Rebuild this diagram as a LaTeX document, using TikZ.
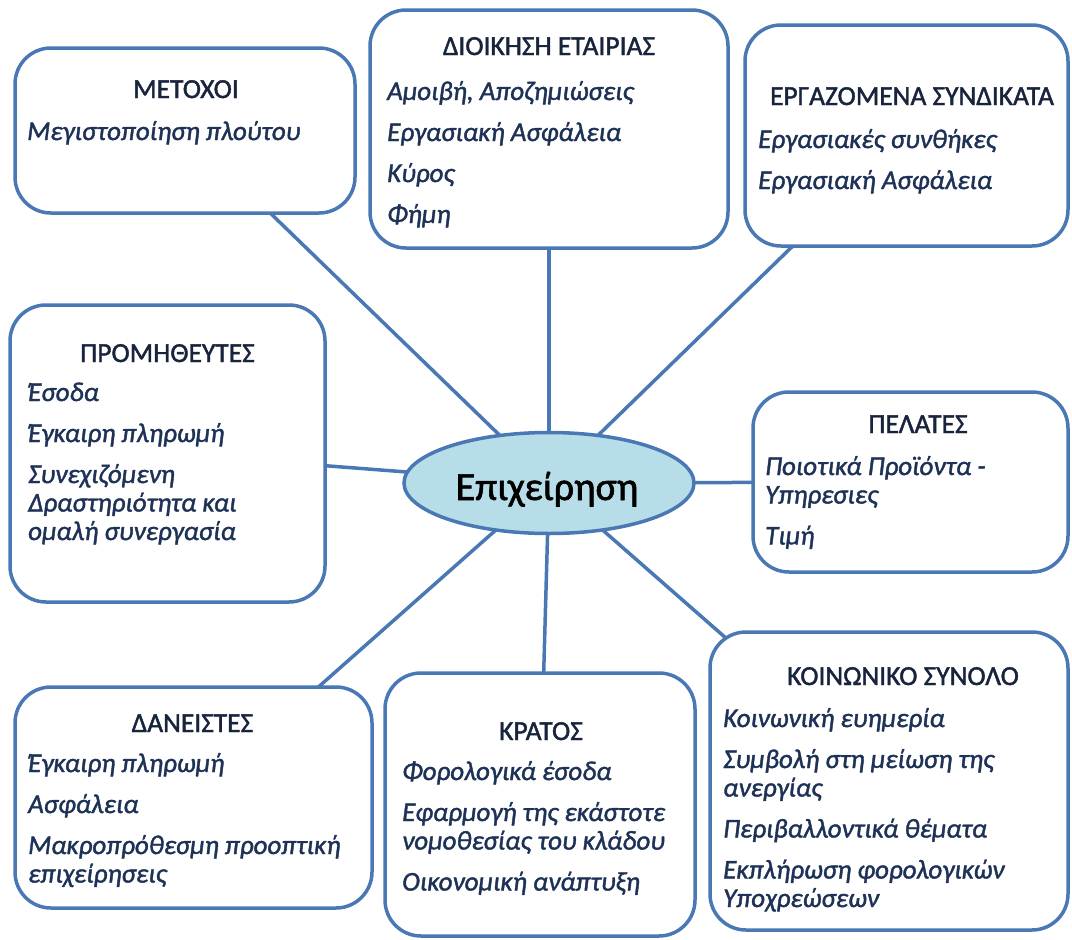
\documentclass[tikz,border=0pt]{standalone}
\usepackage{fontspec}
\setmainfont{Carlito}[FakeBold=1.5]
\usetikzlibrary{shapes.geometric,backgrounds}

\definecolor{edgeblue}{HTML}{4A78B4}
\definecolor{hubfill}{HTML}{B7DDE8}
\definecolor{headcol}{HTML}{18233C}
\definecolor{itemcol}{HTML}{1E3257}

\newcommand{\hdsize}{\fontsize{27.5}{29}\selectfont}
\newcommand{\itsize}{\fontsize{27}{28.5}\selectfont\itshape}
\newcommand{\itemgap}{\\[12.5pt]}
\newcommand{\stack}[1]{\begin{tabular}[t]{@{}l@{}}#1\end{tabular}}

\tikzset{
  box/.style={draw=edgeblue, line width=3.5pt, rounded corners=36pt, fill=white, inner sep=0pt},
  hub/.style={ellipse, draw=edgeblue, line width=3.5pt, fill=hubfill, inner sep=0pt,
              minimum width=290pt, minimum height=101pt, text=black},
  head/.style={anchor=base, inner sep=0pt, font=\hdsize, text=headcol},
  items/.style={anchor=base west, inner sep=0pt, font=\itsize, text=itemcol},
  link/.style={draw=edgeblue, line width=3.5pt}
}

\begin{document}
\begin{tikzpicture}[x=1pt, y=-1pt]
\useasboundingbox (0,0) rectangle (1072,940);

% stakeholder boxes
\node[box, minimum width=340pt, minimum height=165pt] (met) at (185,130.5) {};
\node[box, minimum width=358pt, minimum height=238pt] (dio) at (549,129) {};
\node[box, minimum width=323pt, minimum height=221pt] (erg) at (906.5,135.5) {};
\node[box, minimum width=315pt, minimum height=297pt] (pro) at (167.5,453.5) {};
\node[box, minimum width=315pt, minimum height=180pt] (pel) at (910.5,482) {};
\node[box, minimum width=358pt, minimum height=298pt] (koi) at (889,781) {};
\node[box, minimum width=310pt, minimum height=263pt] (kra) at (540,804.5) {};
\node[box, minimum width=357pt, minimum height=221pt] (dan) at (193.5,797.5) {};

% the firm in the middle
\node[hub] (ell) at (549,483) {};
\node[anchor=base, inner sep=0pt, font=\fontsize{40}{46}\selectfont] (ell-t) at (547,500) {Επιχείρηση};

% spokes, behind everything
\begin{pgfonlayer}{background}
  \fill[white] (0,0) rectangle (1072,940);
  \foreach \b in {met,dio,erg,pro,pel,koi,kra,dan}
    \draw[link] (ell.center) -- (\b.center);
\end{pgfonlayer}

% box contents
\node[head] (met-h) at (186,98) {ΜΕΤΟΧΟΙ};
\node[items] (met-i) at (27,140) {\stack{Μεγιστοποίηση πλούτου}};

\node[head] (dio-h) at (549,55) {ΔΙΟΙΚΗΣΗ ΕΤΑΙΡΙΑΣ};
\node[items] (dio-i) at (387,100) {\stack{Αμοιβή, Αποζημιώσεις\itemgap Εργασιακή Ασφάλεια\itemgap Κύρος\itemgap Φήμη}};

\node[head] (erg-h) at (912,105) {ΕΡΓΑΖΟΜΕΝΑ ΣΥΝΔΙΚΑΤΑ};
\node[items] (erg-i) at (758,148) {\stack{Εργασιακές συνθήκες\itemgap Εργασιακή Ασφάλεια}};

\node[head] (pro-h) at (167.5,362) {ΠΡΟΜΗΘΕΥΤΕΣ};
\node[items] (pro-i) at (28,401) {\stack{Έσοδα\itemgap Έγκαιρη πληρωμή\itemgap Συνεχιζόμενη\\ Δραστηριότητα και\\ ομαλή συνεργασία}};

\node[head] (pel-h) at (918,433) {ΠΕΛΑΤΕΣ};
\node[items] (pel-i) at (765,475) {\stack{Ποιοτικά Προϊόντα -\\ Υπηρεσιες\itemgap Τιμή}};

\node[head] (koi-h) at (903,685) {ΚΟΙΝΩΝΙΚΟ ΣΥΝΟΛΟ};
\node[items] (koi-i) at (723,727) {\stack{Κοινωνική ευημερία\itemgap Συμβολή στη μείωση της\\ ανεργίας\itemgap Περιβαλλοντικά θέματα\itemgap Εκπλήρωση φορολογικών\\ Υποχρεώσεων}};

\node[head] (kra-h) at (541,740) {ΚΡΑΤΟΣ};
\node[items] (kra-i) at (402,780) {\stack{Φορολογικά έσοδα\itemgap Εφαρμογή της εκάστοτε\\ νομοθεσίας του κλάδου\itemgap Οικονομική ανάπτυξη}};

\node[head] (dan-h) at (192.5,732) {ΔΑΝΕΙΣΤΕΣ};
\node[items] (dan-i) at (28,772) {\stack{Έγκαιρη πληρωμή\itemgap Ασφάλεια\itemgap Μακροπρόθεσμη προοπτική\\ επιχείρησεις}};
\end{tikzpicture}
\end{document}
